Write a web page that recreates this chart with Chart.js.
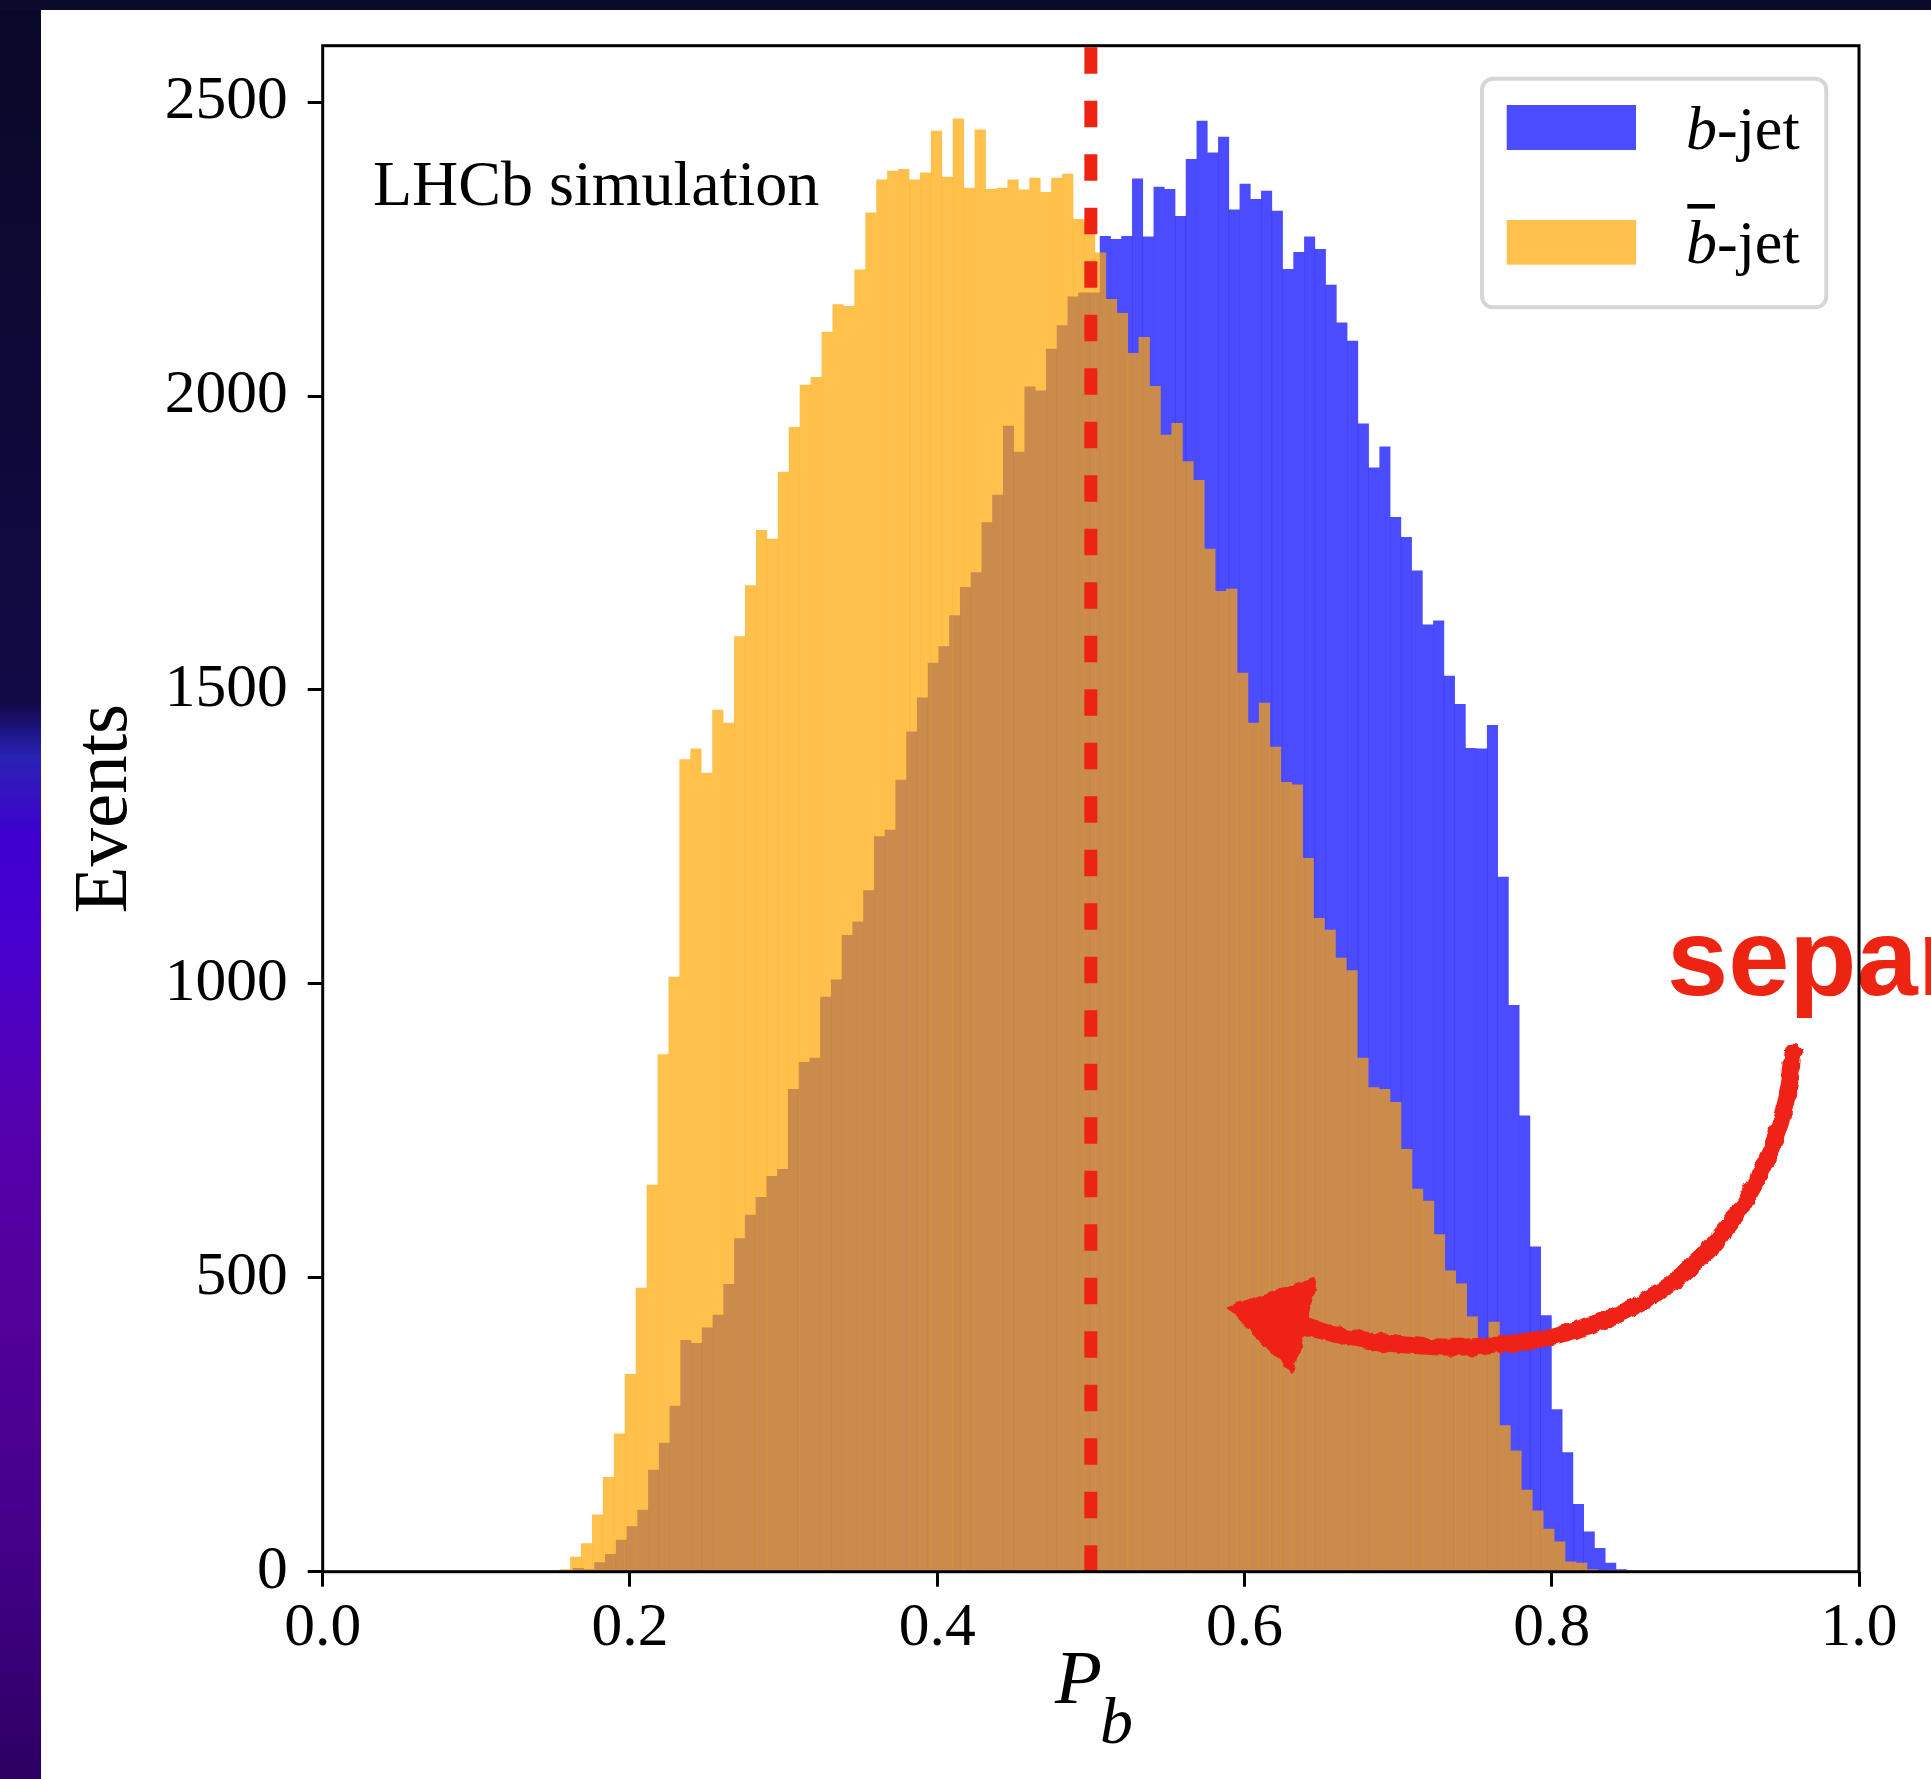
<!DOCTYPE html>
<html>
<head>
<meta charset="utf-8">
<script src="https://cdn.jsdelivr.net/npm/chart.js@4.4.1/dist/chart.umd.min.js"></script>
<style>
html, body { margin: 0; padding: 0; background: #fff; }
#wrap { position: relative; width: 1931px; height: 1779px; overflow: hidden; background: #fff; }
#under, #over, #c { position: absolute; left: 0; top: 0; }
#over { pointer-events: none; }
</style>
</head>
<body>
<div id="wrap">
<svg id="under" width="1931" height="1779" xmlns="http://www.w3.org/2000/svg">
  <text x="1667" y="995" font-family="'Liberation Sans', Arial, sans-serif" font-weight="bold" font-size="110" fill="#ee2412">separation</text>
</svg>
<canvas id="c" width="1931" height="1779"></canvas>
<svg id="over" width="1931" height="1779" xmlns="http://www.w3.org/2000/svg">
  <defs>
    <linearGradient id="strip" x1="0" y1="0" x2="0" y2="1">
      <stop offset="0" stop-color="#0a0828"/>
      <stop offset="0.395" stop-color="#120a45"/>
      <stop offset="0.41" stop-color="#1c1480"/>
      <stop offset="0.425" stop-color="#2a22b4"/>
      <stop offset="0.47" stop-color="#3e00d0"/>
      <stop offset="0.52" stop-color="#4600d0"/>
      <stop offset="0.62" stop-color="#5300b0"/>
      <stop offset="0.72" stop-color="#54009c"/>
      <stop offset="0.87" stop-color="#430088"/>
      <stop offset="1" stop-color="#2c0062"/>
    </linearGradient>
    <filter id="rough" x="-10%" y="-10%" width="120%" height="120%">
      <feTurbulence type="fractalNoise" baseFrequency="0.09" numOctaves="2" seed="4" result="n"/>
      <feDisplacementMap in="SourceGraphic" in2="n" scale="7" xChannelSelector="R" yChannelSelector="G"/>
    </filter>
  </defs>
  <rect x="0" y="0" width="41" height="1779" fill="url(#strip)"/>
  <rect x="0" y="0" width="1931" height="10" fill="#0b0a2c"/>

  <text x="373" y="205" font-family="'Liberation Serif', 'Times New Roman', serif" font-size="64" fill="#000">LHCb simulation</text>

  <rect x="1482" y="78.7" width="344.3" height="228.6" rx="11" ry="11" fill="#fff" fill-opacity="0.8" stroke="#d6d6d6" stroke-width="4"/>
  <rect x="1506.7" y="105" width="129.3" height="45" fill="rgba(0,0,255,0.7)"/>
  <rect x="1506.7" y="220" width="129.3" height="44.7" fill="rgba(255,165,0,0.7)"/>
  <text x="1686" y="149.3" font-family="'Liberation Serif', 'Times New Roman', serif" font-size="62" fill="#000"><tspan font-style="italic">b</tspan>-jet</text>
  <text x="1686" y="262.7" font-family="'Liberation Serif', 'Times New Roman', serif" font-size="62" fill="#000"><tspan font-style="italic">b</tspan>-jet</text>
  <rect x="1687.3" y="204" width="27.7" height="4.6" fill="#000"/>

  <text x="1055" y="1703" font-family="'Liberation Serif', 'Times New Roman', serif" font-size="77" font-style="italic" fill="#000">P<tspan font-size="66" dy="40" dx="-2">b</tspan></text>

  <g filter="url(#rough)">
    <path d="M1793,1052 C1785,1180 1700,1290 1596,1323 C1500,1360 1380,1350 1293,1323" fill="none" stroke="#ee2412" stroke-width="17" stroke-linecap="round"/>
    <polygon points="1232,1308 1314,1280 1292,1370" fill="#ee2412" stroke="#ee2412" stroke-width="6" stroke-linejoin="round"/>
  </g>
</svg>
</div>
<script>
// ---------------- data ----------------
// b-jet histogram (counts per bin)
const bJetCounts = [
  6, 4, 16, 30, 54, 77, 105, 173, 219, 282,
  394, 389, 415, 437, 489, 567, 607, 637, 673, 685,
  821, 867, 874, 978, 1007, 1083, 1106, 1159, 1251, 1262,
  1347, 1429, 1487, 1546, 1574, 1627, 1675, 1700, 1785, 1832,
  1949, 1905, 2016, 2009, 2080, 2120, 2169, 2176, 2176, 2272,
  2267, 2272, 2370, 2271, 2356, 2352, 2306, 2403, 2468, 2414,
  2441, 2317, 2361, 2335, 2349, 2315, 2216, 2245, 2271, 2250,
  2189, 2125, 2094, 1953, 1878, 1914, 1794, 1760, 1703, 1611,
  1618, 1524, 1476, 1401, 1400, 1440, 1182, 964, 776, 553,
  436, 276, 203, 115, 68, 40, 15, 4
];
// b-bar-jet histogram (counts per bin)
const bBarJetCounts = [
  4, 25, 48, 97, 161, 235, 336, 483, 658, 880,
  1012, 1382, 1400, 1359, 1466, 1444, 1591, 1678, 1772, 1757,
  1871, 1947, 2019, 2032, 2109, 2156, 2153, 2215, 2312, 2368,
  2383, 2386, 2368, 2380, 2451, 2373, 2472, 2354, 2453, 2352,
  2354, 2368, 2351, 2371, 2347, 2371, 2378, 2301, 2296, 2244,
  2165, 2141, 2073, 2100, 2017, 1934, 1954, 1889, 1857, 1740,
  1668, 1672, 1529, 1444, 1478, 1403, 1343, 1339, 1214, 1112,
  1092, 1044, 1023, 874, 824, 821, 799, 719, 651, 631,
  574, 512, 490, 434, 385, 425, 249, 206, 139, 104,
  73, 51, 17, 15, 4, 1
];
// histogram binning (P_b units)
const bJetFirstEdge = 0.1629, bJetBinWidth = 0.0070;
const bBarJetFirstEdge = 0.1540, bBarJetBinWidth = 0.007117;
// axis ticks
const xTickValues = [0, 0.2, 0.4, 0.6, 0.8, 1.0];
const xTickLabels = ['0.0', '0.2', '0.4', '0.6', '0.8', '1.0'];
const yTickValues = [0, 500, 1000, 1500, 2000, 2500];
const yTickLabels = ['0', '500', '1000', '1500', '2000', '2500'];
const yMax = 2596;
const cutValue = 0.5;
// --------------------------------------

const bJetData = bJetCounts.map((v, i) => ({ x: bJetFirstEdge + (i + 0.5) * bJetBinWidth, y: v }));
const bBarJetData = bBarJetCounts.map((v, i) => ({ x: bBarJetFirstEdge + (i + 0.5) * bBarJetBinWidth, y: v }));

const serif = "'Liberation Serif', 'Times New Roman', serif";

const overlay = {
  id: 'overlay',
  afterDatasetsDraw(chart) {
    const { ctx, chartArea: a, scales: { x } } = chart;
    const px = x.getPixelForValue(cutValue);
    ctx.save();
    ctx.strokeStyle = '#ee2412';
    ctx.lineWidth = 13;
    ctx.setLineDash([26.5, 27]);
    ctx.beginPath();
    ctx.moveTo(px, a.bottom);
    ctx.lineTo(px, a.top);
    ctx.stroke();
    ctx.restore();
    ctx.save();
    ctx.strokeStyle = '#000';
    ctx.lineWidth = 3;
    ctx.strokeRect(a.left, a.top, a.right - a.left, a.bottom - a.top);
    ctx.restore();
  }
};

new Chart(document.getElementById('c'), {
  type: 'bar',
  data: {
    datasets: [
      { label: 'b-jet', data: bJetData, xAxisID: 'x', yAxisID: 'y',
        backgroundColor: 'rgba(0,0,255,0.7)', order: 2 },
      { label: 'b\u0304-jet', data: bBarJetData, xAxisID: 'x2', yAxisID: 'y',
        backgroundColor: 'rgba(255,165,0,0.7)', order: 1 }
    ]
  },
  options: {
    responsive: false,
    animation: false,
    devicePixelRatio: 1,
    layout: { padding: { left: 40, top: 45.7, right: 72, bottom: 107.3 } },
    datasets: { bar: { barPercentage: 1, categoryPercentage: 1, borderWidth: 0, inflateAmount: 0.15, grouped: false } },
    plugins: { legend: { display: false }, tooltip: { enabled: false } },
    scales: {
      x: {
        type: 'linear', position: 'bottom', min: 0, max: 1, offset: false,
        grid: { display: true, drawOnChartArea: false, drawTicks: true, tickLength: 15, lineWidth: 3, color: '#000', offset: false },
        border: { display: false },
        ticks: { font: { family: serif, size: 61.5 }, color: '#000', padding: 5, maxRotation: 0, autoSkip: false,
                 callback: (v, i) => xTickLabels[i] },
        afterBuildTicks: s => { s.ticks = xTickValues.map(v => ({ value: v })); },
        afterFit: s => { s.height = 100; s.paddingLeft = 0; s.paddingRight = 0; }
      },
      x2: {
        type: 'linear', position: 'bottom', display: false, min: 0, max: 1, offset: false,
        grid: { offset: false }
      },
      y: {
        type: 'linear', position: 'left', min: 0, max: yMax,
        grid: { display: true, drawOnChartArea: false, drawTicks: true, tickLength: 15, lineWidth: 3, color: '#000' },
        border: { display: false },
        ticks: { font: { family: serif, size: 61.5 }, color: '#000', padding: 20,
                 callback: (v, i) => yTickLabels[i] },
        afterBuildTicks: s => { s.ticks = yTickValues.map(v => ({ value: v })); },
        title: { display: true, text: 'Events', font: { family: serif, size: 77 }, color: '#000', padding: { top: 20, bottom: 0 } },
        afterFit: s => { s.width = 282.7; s.paddingTop = 0; s.paddingBottom = 0; }
      }
    }
  },
  plugins: [overlay]
});
</script>
</body>
</html>
